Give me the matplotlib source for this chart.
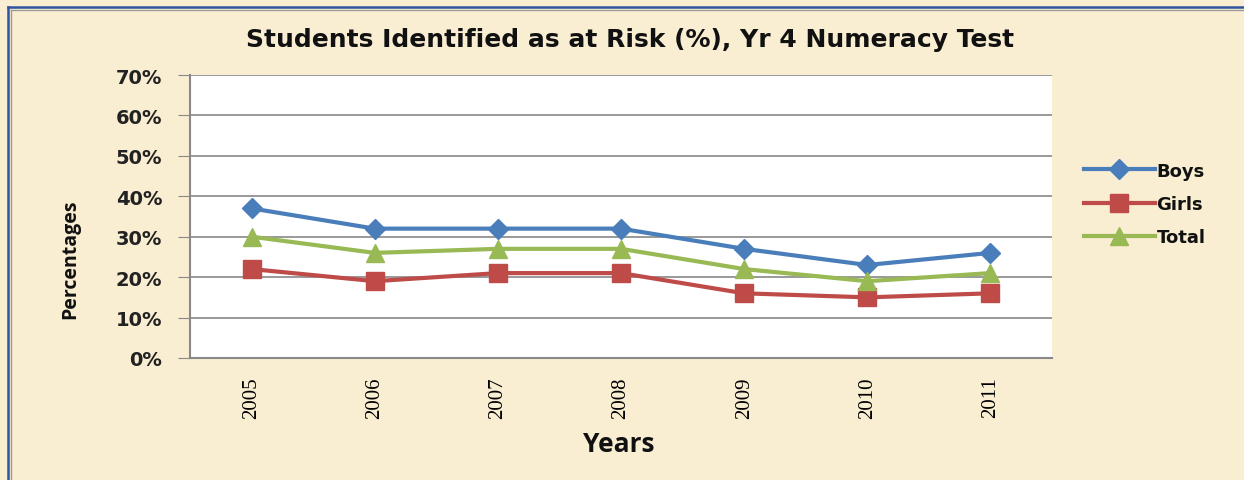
import matplotlib.pyplot as plt
from matplotlib.lines import Line2D

years = ["2005", "2006", "2007", "2008", "2009", "2010", "2011"]
boys = [37, 32, 32, 32, 27, 23, 26]
girls = [22, 19, 21, 21, 16, 15, 16]
total = [30, 26, 27, 27, 22, 19, 21]
y_ticks = [0, 10, 20, 30, 40, 50, 60, 70]

W, H = 1244, 481
bg = "#F9EDD2"
fig = plt.figure(figsize=(W / 100, H / 100), dpi=100, facecolor=bg)

# blue frame (top and left only) with a thin grey line inside
for off, col, lw in [(8, "#2F55A0", 1.8), (11, "#9A9A9A", 1.0)]:
    fig.add_artist(Line2D([off / W, off / W], [0, 1 - off / H],
                          transform=fig.transFigure, color=col, lw=lw))
    fig.add_artist(Line2D([off / W, 1], [1 - off / H, 1 - off / H],
                          transform=fig.transFigure, color=col, lw=lw))

ax = fig.add_axes([190 / W, 1 - 359 / H, 862 / W, 283 / H])
ax.set_facecolor("white")

x = range(len(years))
ax.plot(x, boys, color="#4A7EBB", lw=3, marker="D", ms=10, label="Boys")
ax.plot(x, girls, color="#BE4B48", lw=3, marker="s", ms=13, label="Girls")
ax.plot(x, total, color="#98B954", lw=3, marker="^", ms=13, label="Total")

ax.set_xlim(-0.5, len(years) - 0.5)
ax.set_ylim(0, 70)
ax.set_yticks(y_ticks)
ax.set_yticklabels([f"{v}%" for v in y_ticks], fontsize=14, fontweight="bold",
                   color="#222222")
ax.set_xticks(list(x))
ax.set_xticklabels(years, rotation=90, family="Liberation Serif", fontsize=15)
ax.tick_params(axis="x", length=0, pad=13)
ax.tick_params(axis="y", length=8.6, color="#888888", pad=11.5)
ax.yaxis.grid(True, color="#888888", lw=1.2)
ax.set_axisbelow(True)
for s in ["top", "right"]:
    ax.spines[s].set_visible(False)
for s in ["left", "bottom"]:
    ax.spines[s].set_color("#888888")
    ax.spines[s].set_linewidth(1.5)

fig.text(630 / W, 1 - 40 / H, "Students Identified as at Risk (%), Yr 4 Numeracy Test",
         ha="center", va="center", fontsize=18, fontweight="bold", color="#111111")
fig.text(619 / W, 1 - 445 / H, "Years", ha="center", va="center",
         fontsize=19, fontweight="bold", family="Open Sans", fontstretch="condensed",
         color="#111111")
fig.text(70 / W, 1 - 259 / H, "Percentages", ha="center", va="center",
         rotation=90, fontsize=14, fontweight="bold", family="Open Sans",
         fontstretch="condensed", color="#111111")

leg = fig.legend(*ax.get_legend_handles_labels(), loc="center left",
                 bbox_to_anchor=(1068 / W, 1 - 205 / H), frameon=False,
                 prop={"weight": "bold", "size": 13},
                 handlelength=3.9, handletextpad=0.1, labelspacing=0.85)
for t in leg.get_texts():
    t.set_color("#111111")

fig.savefig("out.png", dpi=100, facecolor=bg)
